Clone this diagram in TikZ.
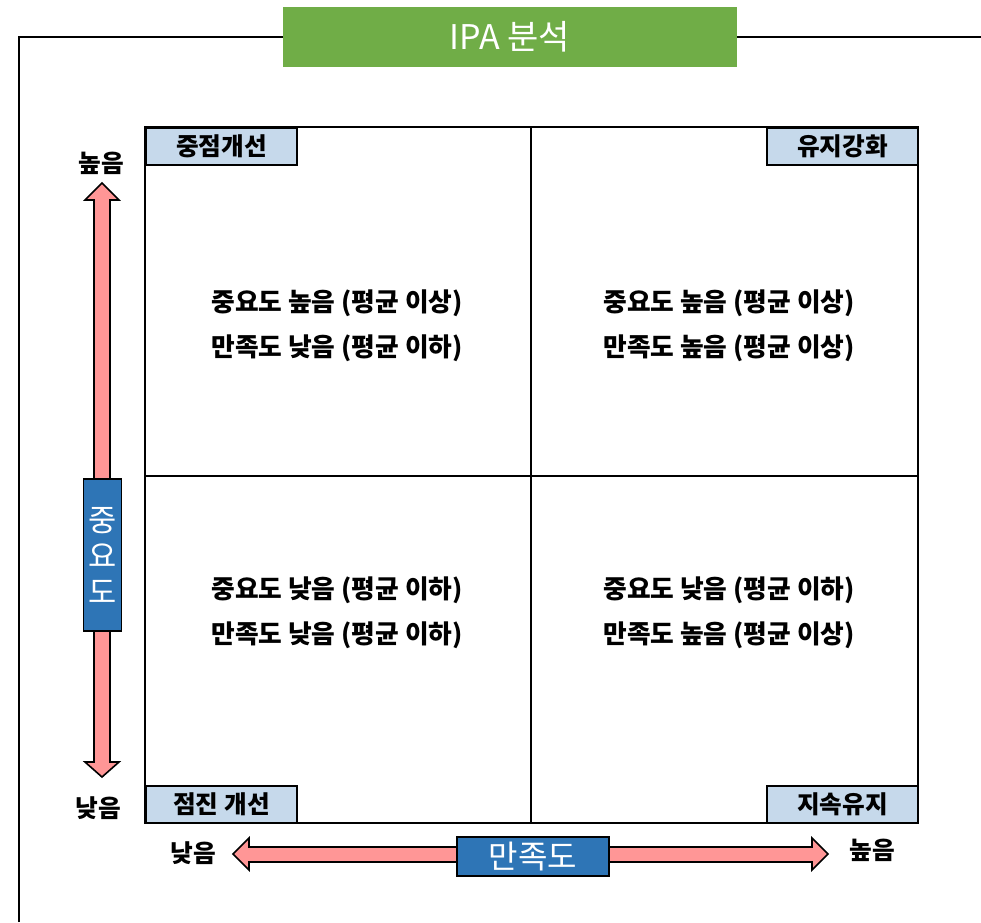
\documentclass[tikz,border=0pt]{standalone}
\usepackage{fontspec}
\setmainfont{Noto Sans CJK KR}
\definecolor{titlegreen}{HTML}{70AD47}
\definecolor{axisblue}{HTML}{2E75B6}
\definecolor{cornerblue}{HTML}{C6D9EB}
\definecolor{arrowpink}{HTML}{FF9696}
\tikzset{
  corner/.style={draw=black, line width=1.5pt, fill=cornerblue, minimum width=113pt, minimum height=27.75pt, inner sep=0pt, font=\fontsize{18.5}{20}\selectfont\bfseries},
  quad/.style={align=center, font=\fontsize{19.3}{33.75}\selectfont\bfseries},
  axislbl/.style={font=\fontsize{18.5}{20}\selectfont\bfseries},
  axisbox/.style={draw=black, line width=1.2pt, fill=axisblue, text=white, inner sep=0pt},
  arrowshape/.style={draw=black, line width=1.2pt, fill=arrowpink, line join=miter},
}
\begin{document}
\begin{tikzpicture}[x=0.75pt,y=-0.75pt]
\useasboundingbox (0,0) rectangle (981,922);
% frame
\draw[line width=1.3pt] (19,922) -- (19,37) -- (981,37);
% title
\node[fill=titlegreen, minimum width=340.5pt, minimum height=45pt, inner sep=0pt, text=white, font=\fontsize{25.5}{28}\selectfont] (title) at (510,37) {IPA 분석};
% main square
\draw[line width=1.5pt] (145,127) rectangle (918,823);
\draw[line width=1.2pt] (531,127) -- (531,823);
\draw[line width=1.2pt] (145,476) -- (918,476);
% corner labels
\node[corner] (tl) at (221.5,146.5) {중점개선};
\node[corner] (tr) at (842.5,146.5) {유지강화};
\node[corner] (bl) at (221.5,804.5) {점진 개선};
\node[corner] (br) at (842.5,804.5) {지속유지};
% quadrant texts
\node[quad] (q1) at (337,326) {중요도 높음 (평균 이상)\\만족도 낮음 (평균 이하)};
\node[quad] (q2) at (729,326) {중요도 높음 (평균 이상)\\만족도 높음 (평균 이상)};
\node[quad] (q3) at (337,613) {중요도 낮음 (평균 이하)\\만족도 낮음 (평균 이하)};
\node[quad] (q4) at (729,613) {중요도 낮음 (평균 이하)\\만족도 높음 (평균 이상)};
% vertical arrow
\draw[arrowshape] (102,183) -- (119,200) -- (110,200) -- (110,762) -- (119,762) -- (102,777) -- (85,762) -- (94,762) -- (94,200) -- (85,200) -- cycle;
\node[axisbox, minimum width=28.5pt, minimum height=114pt] (vbox) at (102.5,555) {};
\node[text=white, align=center, font=\fontsize{23}{27}\selectfont] (vtext) at (vbox.center) {중\\요\\도};
% horizontal arrow
\draw[arrowshape] (233,854) -- (249,838) -- (249,847) -- (812,847) -- (812,838) -- (828,854) -- (812,870) -- (812,862) -- (249,862) -- (249,870) -- cycle;
\node[axisbox, minimum width=114pt, minimum height=29pt, font=\fontsize{24}{26}\selectfont] (hbox) at (533,856.5) {만족도};
% axis labels
\node[axislbl] (vhigh) at (101,163) {높음};
\node[axislbl] (vlow) at (98,808) {낮음};
\node[axislbl] (hlow) at (193,853) {낮음};
\node[axislbl] (hhigh) at (872,850) {높음};
\end{tikzpicture}
\end{document}
